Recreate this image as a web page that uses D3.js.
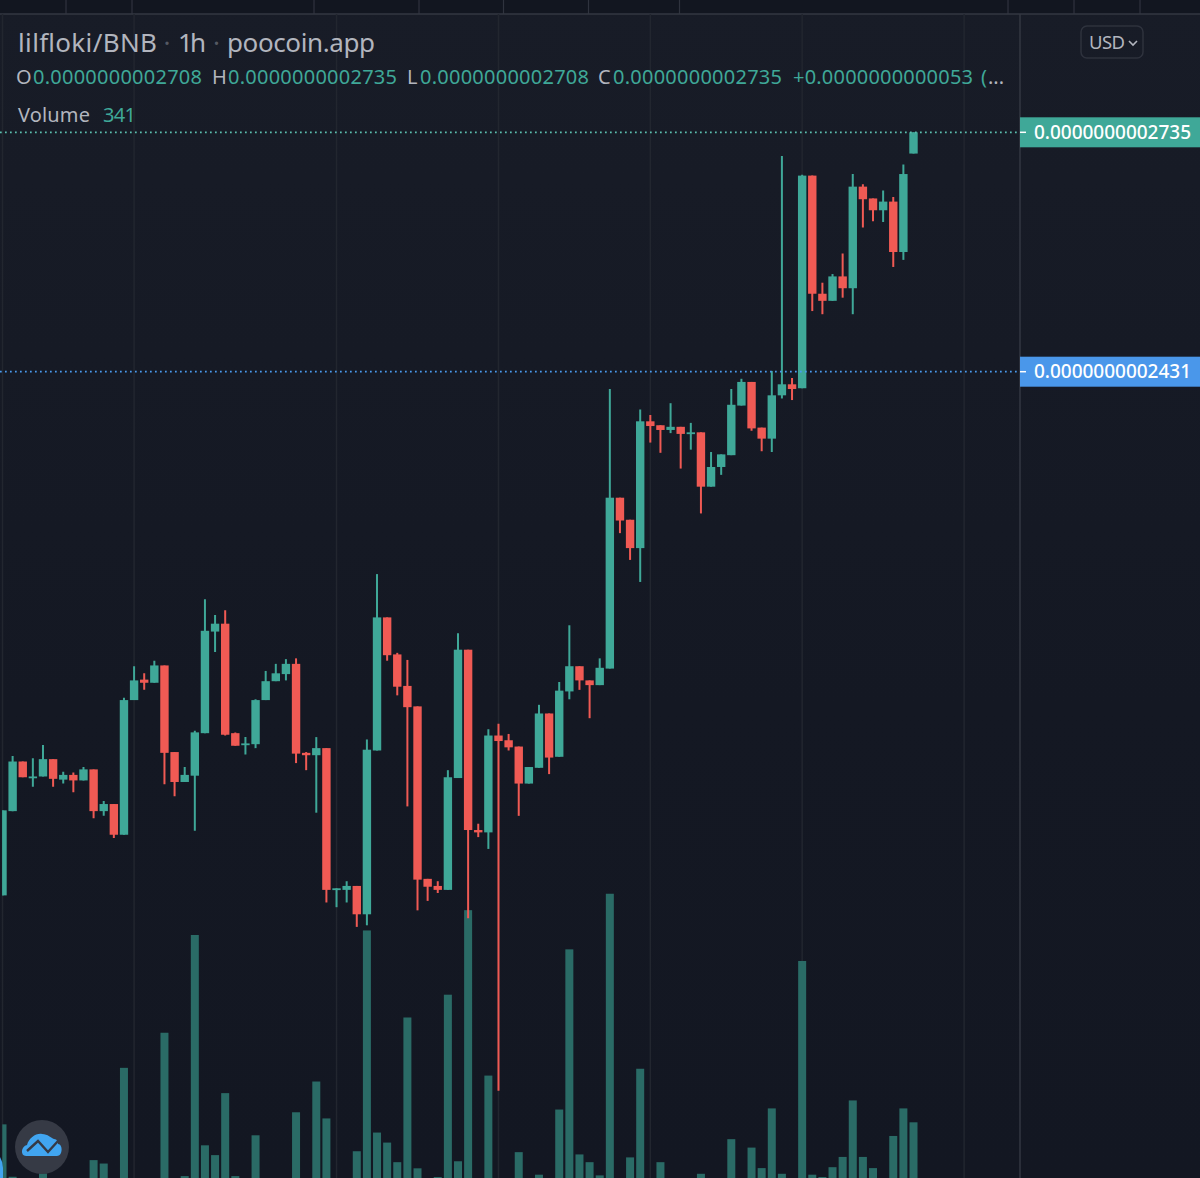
<!DOCTYPE html>
<html>
<head>
<meta charset="utf-8">
<script src="https://cdn.jsdelivr.net/npm/d3@7"></script>
<style>
html, body { margin: 0; padding: 0; background: #131722; overflow: hidden; }
svg { display: block; }
text { font-family: "Noto Sans", sans-serif; }
</style>
</head>
<body>
<svg width="1200" height="1178"></svg>
<script>
// prices in units of 1e-13 BNB
const opens = [1766,1873,1936,1916,1917,1939,1913,1919,1912,1926,
    1873,1882,1843,2014,2040,2036,2058,1948,1910,1918,
    1972,2101,2111,1972,1957,1958,2014,2038,2047,2060,
    1947,1944,1953,1773,1773,1778,1742,1950,2119,2072,
    2032,2006,1787,1778,1773,1915,2078,1849,1846,1969,
    1963,1955,1908,1928,1997,1942,2025,2057,2039,2033,
    2054,2271,2243,2207,2368,2363,2357,2361,2352,2354,
    2285,2310,2325,2388,2418,2360,2346,2401,2415,2410,
    2680,2530,2521,2552,2537,2666,2651,2636,2647,2583,2708];
const highs = [1874,1943,1936,1940,1957,1939,1923,1922,1929,1926,
    1886,1882,2017,2057,2048,2064,2058,1948,1929,1975,
    2142,2122,2128,1973,1967,2015,2051,2060,2066,2067,
    1948,1967,1953,1775,1784,1778,1964,2174,2119,2074,
    2065,2006,1787,1784,1925,2099,2078,1857,1977,1984,
    1971,1955,1929,2008,1997,2037,2109,2057,2039,2067,
    2409,2271,2243,2383,2376,2363,2391,2361,2366,2354,
    2329,2326,2409,2422,2418,2360,2432,2705,2423,2681,
    2680,2544,2555,2581,2682,2669,2651,2661,2653,2694,2735];
const lows = [1766,1873,1916,1904,1917,1904,1908,1897,1912,1864,
    1867,1839,1843,2014,2027,2036,1907,1892,1910,1848,
    1972,2075,1969,1956,1945,1953,2014,2038,2039,1934,
    1925,1871,1757,1751,1757,1726,1728,1950,2064,2020,
    1879,1747,1759,1769,1773,1915,1737,1840,1825,1518,
    1950,1867,1908,1928,1920,1942,2015,2027,1991,2033,
    2054,2226,2192,2164,2341,2328,2353,2308,2332,2251,
    2285,2300,2325,2388,2356,2330,2329,2397,2395,2410,
    2508,2504,2521,2525,2504,2614,2622,2621,2564,2573,2708];
const closes = [1874,1936,1916,1917,1939,1914,1919,1912,1926,1873,
    1882,1843,2014,2039,2036,2058,1947,1910,1919,1973,
    2102,2111,1970,1956,1959,2014,2038,2048,2060,1946,
    1944,1953,1773,1775,1778,1742,1951,2119,2071,2031,
    2005,1786,1777,1773,1916,2078,1849,1846,1969,1962,
    1954,1908,1929,1997,1941,2026,2057,2039,2033,2055,
    2271,2242,2207,2368,2362,2357,2361,2352,2354,2285,
    2310,2326,2389,2418,2359,2346,2401,2415,2409,2680,
    2530,2521,2552,2537,2666,2650,2636,2647,2583,2682,2735];
const volumes = [332,102,60,60,117,60,60,60,60,175,
    160,60,580,60,60,60,734,60,105,1163,
    240,197,469,105,60,284,60,60,60,385,
    60,520,358,60,60,214,1183,296,252,166,
    801,139,60,101,901,170,1272,60,546,60,
    60,210,60,111,60,397,1100,200,166,108,
    1344,60,187,576,60,166,60,60,60,115,
    60,60,267,60,230,140,402,115,60,1049,
    111,101,144,189,437,189,140,60,281,402,341];

const lastPrice = 2735, prevClose = 2682, markPrice = 2431;
const gridBars = [0, 13, 33, 49, 64, 79, 95];
const topTicks = [66, 132, 314, 419, 503.5, 588.5, 679.5, 1008, 1074, 1140];

const svg = d3.select("svg"),
    width = +svg.attr("width"),
    height = +svg.attr("height"),
    paneRight = 1020,
    paneTop = 14;

const up = "#3fa898", down = "#f05a54", volColor = "#2a6b66", blue = "#4a97ea",
    labelGray = "#b2b5be", gridColor = "#22262f";

const x = d3.scaleLinear().domain([0, 90]).range([2.5, 913.5]);
const y = d3.scaleLinear().domain([2735, 2431]).range([132.3, 371.7]);
const yVol = d3.scaleLinear().domain([0, 341]).range([1200, 1122.3]);
const fmt = v => (v * 1e-13).toFixed(13);

const bars = d3.range(opens.length).map(i => ({
    i: i, o: opens[i], h: highs[i], l: lows[i], c: closes[i], v: volumes[i]
}));

const defs = svg.append("defs");
const grad = defs.append("linearGradient")
    .attr("id", "bg").attr("x1", 0).attr("y1", 0).attr("x2", 0).attr("y2", 1);
grad.append("stop").attr("offset", "0%").attr("stop-color", "#181c27");
grad.append("stop").attr("offset", "60%").attr("stop-color", "#141823");
grad.append("stop").attr("offset", "100%").attr("stop-color", "#131722");
defs.append("clipPath").attr("id", "pane").append("rect")
    .attr("x", 2.3).attr("y", paneTop).attr("width", paneRight - 2.3).attr("height", height - paneTop);

svg.append("rect").attr("width", width).attr("height", height).attr("fill", "url(#bg)");
svg.append("rect").attr("width", width).attr("height", paneTop).attr("fill", "#121620");

// time axis strip at the top
svg.append("g").selectAll("line").data(topTicks).enter().append("line")
    .attr("x1", d => d).attr("x2", d => d)
    .attr("y1", 0).attr("y2", paneTop)
    .attr("stroke", "#2f333e").attr("stroke-width", 1.2);
svg.append("line").attr("x1", 0).attr("x2", width)
    .attr("y1", paneTop).attr("y2", paneTop)
    .attr("stroke", "#333742").attr("stroke-width", 1.5);

svg.append("g").selectAll("line").data(gridBars).enter().append("line")
    .attr("x1", d => x(d)).attr("x2", d => x(d))
    .attr("y1", paneTop).attr("y2", height)
    .attr("stroke", gridColor).attr("stroke-width", 1.5);
svg.append("line").attr("x1", paneRight).attr("x2", paneRight)
    .attr("y1", paneTop).attr("y2", height)
    .attr("stroke", "#333742").attr("stroke-width", 1.5);

const chart = svg.append("g").attr("clip-path", "url(#pane)");

chart.append("g").selectAll("rect").data(bars).enter().append("rect")
    .attr("x", d => x(d.i) - 4).attr("width", 8)
    .attr("y", d => yVol(d.v))
    .attr("height", d => Math.max(0, height - yVol(d.v)))
    .attr("fill", volColor);

chart.append("g").selectAll("line").data(bars).enter().append("line")
    .attr("x1", d => x(d.i)).attr("x2", d => x(d.i))
    .attr("y1", d => y(d.h)).attr("y2", d => y(d.l))
    .attr("stroke", d => d.c >= d.o ? up : down)
    .attr("stroke-width", 2);

chart.append("g").selectAll("rect").data(bars).enter().append("rect")
    .attr("x", d => x(d.i) - 4.2).attr("width", 8.4)
    .attr("y", d => y(Math.max(d.o, d.c)))
    .attr("height", d => Math.max(1.8, Math.abs(y(d.o) - y(d.c))))
    .attr("fill", d => d.c >= d.o ? up : down);

// price lines and their labels on the right scale
const priceLines = [
    {price: lastPrice, color: up, dot: "#5cc0b0"},
    {price: markPrice, color: blue, dot: "#4a9cf0"}
];
svg.append("g").selectAll("line").data(priceLines).enter().append("line")
    .attr("x1", 0).attr("x2", paneRight)
    .attr("y1", d => y(d.price)).attr("y2", d => y(d.price))
    .attr("stroke", d => d.dot)
    .attr("stroke-width", 1.7)
    .attr("stroke-dasharray", "1.7 3.3");

const tag = svg.append("g").selectAll("g").data(priceLines).enter().append("g")
    .attr("transform", d => "translate(" + paneRight + "," + y(d.price) + ")");
tag.append("rect")
    .attr("x", 0).attr("y", -15).attr("width", width - paneRight).attr("height", 30)
    .attr("fill", d => d.color);
tag.append("line")
    .attr("x1", 0).attr("x2", 6).attr("y1", 0).attr("y2", 0)
    .attr("stroke", "#fff").attr("stroke-width", 1.5);
tag.append("text")
    .attr("x", 14).attr("dy", "0.35em")
    .attr("font-size", 19).attr("font-weight", 500).attr("fill", "#fff")
    .attr("textLength", 157).attr("lengthAdjust", "spacing")
    .text(d => fmt(d.price));

// legend
function label(px, py, size, color, str, len) {
    const t = svg.append("text").attr("x", px).attr("y", py)
        .attr("font-size", size).attr("fill", color).text(str);
    if (len) t.attr("textLength", len).attr("lengthAdjust", "spacing");
    return t;
}
label(18, 52, 26, labelGray, "lilfloki/BNB", 139);
label(163.5, 52, 26, "#555963", "·");
label(178, 52, 26, labelGray, "1h", 28);
label(213, 52, 26, "#555963", "·");
label(227, 52, 26, labelGray, "poocoin.app", 148);

const ohlcY = 84;
[
    {name: "O", nx: 16, vx: 33, val: opens[90]},
    {name: "H", nx: 212, vx: 228, val: highs[90]},
    {name: "L", nx: 407, vx: 420, val: lows[90]},
    {name: "C", nx: 598, vx: 613, val: closes[90]}
].forEach(d => {
    label(d.nx, ohlcY, 20, labelGray, d.name);
    label(d.vx, ohlcY, 20, up, fmt(d.val), 169);
});
label(793, ohlcY, 20, up, "+" + fmt(lastPrice - prevClose), 180);
label(981, ohlcY, 20, up, "(");
label(988, ohlcY, 20, labelGray, "...");

label(18, 122, 20, labelGray, "Volume", 72);
label(103, 122, 20, up, String(volumes[90]), 33);

// currency button
svg.append("rect").attr("x", 1081).attr("y", 26).attr("width", 62).attr("height", 32).attr("rx", 6)
    .attr("fill", "none").attr("stroke", "#2e323d").attr("stroke-width", 1.5);
label(1089, 49, 18.5, labelGray, "USD", 36);
svg.append("path").attr("d", "M1129 41 l4 4 l4 -4")
    .attr("fill", "none").attr("stroke", labelGray).attr("stroke-width", 1.6);

// logo
const logo = svg.append("g").attr("transform", "translate(42,1147)");
logo.append("circle").attr("r", 27).attr("fill", "#363a45");
logo.append("path")
    .attr("d", "M-16 9 C-22 9 -21 -1 -15 -2 C-13 -9 -6 -14 0 -13 C6 -13 9 -9 12 -8 C15 -8 16 -5 16 -3 C21 -3 21 9 15 9 Z")
    .attr("fill", "#41a5f0");
logo.append("path")
    .attr("d", "M-15 4 L-4 -6 L6 5 L16 -6")
    .attr("fill", "none").attr("stroke", "#363a45").attr("stroke-width", 2.4);
svg.append("path").attr("d", "M0 1157 Q3 1162 3 1168 L3 1178 L0 1178 Z").attr("fill", "#41a5f0");
</script>
</body>
</html>
